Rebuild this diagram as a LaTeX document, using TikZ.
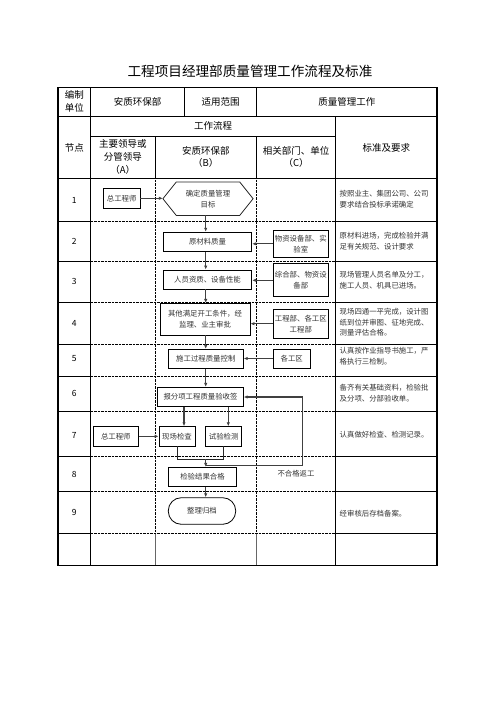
\documentclass[tikz,border=0pt]{standalone}
\usepackage{fontspec}
\setmainfont{Noto Sans CJK SC}
\usepackage{tikz}
\usetikzlibrary{positioning,arrows.meta}
\tikzset{every node/.style={font=\small}}

\begin{document}
\begin{tikzpicture}[
x=1pt,y=-1pt,
every node/.style={align=center,inner sep=0pt},
hd/.style={font=\fontsize{9.5}{12.8}\selectfont},
box/.style={draw,line width=0.8pt,minimum height=19pt,
font=\fontsize{7.4}{11}\selectfont,text=black!80},
note/.style={anchor=west,align=left,
font=\fontsize{7.4}{10.8}\selectfont,text=black!80},
num/.style={font=\fontsize{8.5}{10}\selectfont},
arrow/.style={-{Latex[length=4pt,width=3.4pt]},line width=1.1pt,draw=black!75},
link/.style={line width=0.8pt,draw=black!85},
dotline/.style={line width=0.6pt,dash pattern=on 0.7pt off 0.7pt},
rule/.style={line width=0.7pt}
]

\useasboundingbox (0,0) rectangle (496,702);

\node[font=\fontsize{13.6}{16}\selectfont] (title) at (250,71)
{工程项目经理部质量管理工作流程及标准};

\draw[line width=1.1pt] (58,87.3) rectangle (437,565.3);
\draw[rule] (58,116) -- (437,116);
\draw[rule] (90.7,136.7) -- (335.7,136.7);
\draw[rule] (58,178.3) -- (437,178.3);
\draw[rule] (90.7,87.3) -- (90.7,565.3);
\draw[rule] (184.3,87.3) -- (184.3,116);
\draw[rule] (256.7,87.3) -- (256.7,116);
\draw[rule] (335.7,116) -- (335.7,565.3);
\foreach \cx in {155,256.7}{
\draw[rule] (\cx,136.7) -- (\cx,178.3);
\draw[dotline] (\cx,178.3) -- (\cx,533.3);
\draw[rule,draw=black!60] (\cx,533.3) -- (\cx,565.3);
}
\foreach \ry in {221.7,261,302.3,344.3,376,411.7,456,491.7,533.3}{
\draw[rule] (58,\ry) -- (90.7,\ry);
\draw[dotline] (90.7,\ry) -- (335.7,\ry);
\draw[rule] (335.7,\ry) -- (437,\ry);
}

\node[hd] (bzdw) at (74.3,101.7) {编制\\单位};
\node[hd] (aqb) at (137.5,101.7) {安质环保部};
\node[hd] (syfw) at (220.5,101.7) {适用范围};
\node[hd] (zlgz) at (346.8,101.7) {质量管理工作};
\node[hd] (gzlc) at (213.2,126.3) {工作流程};
\node[hd] (jd) at (74.3,147.5) {节点};
\node[hd] (colA) at (122.8,157) {主要领导或\\分管领导\\（A）};
\node[hd] (colB) at (205.8,157) {安质环保部\\（B）};
\node[hd] (colC) at (296.2,157) {相关部门、单位\\（C）};
\node[hd] (bzyq) at (386.3,147.5) {标准及要求};

\foreach \n/\ry in {1/200,2/241.3,3/281.7,4/323.3,5/358.5,6/393.8,7/435,8/474.5,9/512.5}{
\node[num] (n\n) at (74.3,\ry) {\n};
}

\node[box,minimum width=36.7pt,minimum height=20pt] (zgs1) at (121.7,198.3) {总工程师};
\node[box,draw=none,minimum width=89.4pt,minimum height=32.7pt] (mb) at (208,198.7)
{确定质量管理\\目标};
\draw[link] (mb.west) -- ([xshift=13.4pt]mb.north west)
-- ([xshift=-13.4pt]mb.north east) -- (mb.east)
-- ([xshift=-13.4pt]mb.south east) -- ([xshift=13.4pt]mb.south west) -- cycle;
\node[box,minimum width=88.4pt] (ycl) at (207.5,241.7) {原材料质量};
\node[box,minimum width=55pt,minimum height=27.7pt] (wz) at (300.8,243.8)
{物资设备部、实\\验室};
\node[box,minimum width=88.4pt] (ry) at (207.5,279.5) {人员资质、设备性能};
\node[box,minimum width=55pt,minimum height=33pt] (zh) at (300.8,280.3)
{综合部、物资设\\备部};
\node[box,minimum width=90pt,minimum height=31.7pt] (qt) at (205,319.2)
{其他满足开工条件，经\\监理、业主审批};
\node[box,minimum width=55pt,minimum height=29.3pt] (gc) at (300.8,323.7)
{工程部、各工区\\工程部};
\node[box,minimum width=75pt] (sg) at (205.8,358.8) {施工过程质量控制};
\node[box,minimum width=36.7pt] (gq) at (291.7,358.5) {各工区};
\node[box,minimum width=85.6pt,minimum height=19.4pt] (bf) at (200.5,397)
{报分项工程质量验收签};
\node[box,minimum width=45pt,minimum height=19.3pt] (zgs2) at (115.8,436.3) {总工程师};
\node[box,minimum width=36pt,minimum height=19.3pt] (xc) at (177,436.3) {现场检查};
\node[box,minimum width=36pt,minimum height=19.3pt] (sy) at (223.7,436.3) {试验检测};
\node[box,minimum width=68.4pt,minimum height=19.4pt] (jg) at (202.5,477) {检验结果合格};
\node[box,minimum width=67.4pt,minimum height=26.6pt,rounded corners=13pt] (gd) at (202,511)
{整理归档};
\node[font=\fontsize{7.4}{10}\selectfont,text=black!80] (bhg) at (296,473.3) {不合格返工};

\coordinate (ax) at (205.7,0);
\coordinate (jn) at (205.7,459.3);
\coordinate (fb) at (205.7,465.5);
\coordinate (fbr) at (302.7,465.5);
\path ([xshift=7pt]xc.north) coordinate (xcin);
\path ([xshift=4.6pt]sy.north) coordinate (syin);

\draw[arrow] (zgs1.east) -- (zgs1.east -| mb.west);
\draw[arrow] (mb.south -| ax) -- (ycl.north -| ax);
\draw[arrow] (wz.west) -- (wz.west -| ycl.east);
\draw[arrow] (ycl.south -| ax) -- (ry.north -| ax);
\draw[arrow] (zh.west) -- (zh.west -| ry.east);
\draw[arrow] (ry.south -| ax) -- (qt.north -| ax);
\draw[arrow] (gc.west) -- (gc.west -| qt.east);
\draw[arrow] (qt.south -| ax) -- (sg.north -| ax);
\draw[arrow] (gq.west) -- (gq.west -| sg.east);
\draw[arrow] (sg.south -| ax) -- (bf.north -| ax);
\draw[arrow] (xcin |- bf.south) -- (xcin);
\draw[arrow] (syin |- bf.south) -- (syin);
\draw[arrow] (zgs2.east) -- (zgs2.east -| xc.west);
\draw[link] (xc.south) |- (jn) -| (sy.south);
\draw[arrow] (jn) -- (jn |- jg.north);
\draw[arrow] (fb) -| (fbr) |- (bf.east);
\draw[arrow] (jg.south -| ax) -- (gd.north -| ax);

\node[note] (s1) at (339.5,198.8) {按照业主、集团公司、公司\\要求结合投标承诺确定};
\node[note] (s2) at (339.5,240.8) {原材料进场，完成检验并满\\足有关规范、设计要求};
\node[note] (s3) at (339.5,280) {现场管理人员名单及分工，\\施工人员、机具已进场。};
\node[note] (s4) at (339.5,322.3) {现场四通一平完成，设计图\\纸到位并审图、征地完成、\\测量评估合格。};
\node[note] (s5) at (339.5,355.8) {认真按作业指导书施工，严\\格执行三检制。};
\node[note] (s6) at (339.5,393.3) {备齐有关基础资料，检验批\\及分项、分部验收单。};
\node[note] (s7) at (339.5,434.3) {认真做好检查、检测记录。};
\node[note] (s9) at (339.5,514) {经审核后存档备案。};

\end{tikzpicture}
\end{document}
